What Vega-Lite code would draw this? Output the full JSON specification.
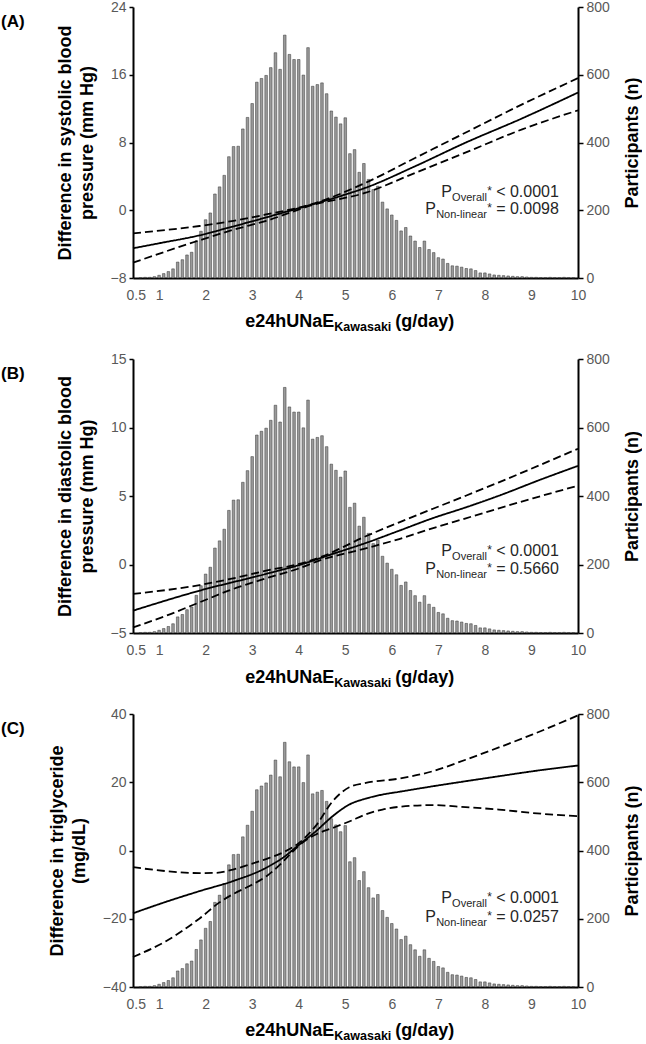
{
  "$schema": "https://vega.github.io/schema/vega-lite/v6.json",
  "autosize": {"type": "pad"},
  "padding": {"left": 1, "top": 0, "right": 0, "bottom": 0},
  "bounds": "flush",
  "spacing": 81,
  "config": {
    "view": {"stroke": null},
    "font": "Liberation Sans",
    "axis": {"grid": false, "domainColor": "black", "domainWidth": 2, "tickColor": "black", "tickWidth": 1.5, "labelColor": "#595959", "labelFontSize": 14, "labelFont": "Liberation Sans", "titleFont": "Liberation Sans", "titleFontSize": 18, "titleFontWeight": "bold", "titleColor": "black"},
    "title": {"font": "Liberation Sans", "fontSize": 17, "fontWeight": "bold", "color": "black", "anchor": "start", "frame": "group", "dx": -132, "offset": -31, "baseline": "top"}
  },
  "datasets": {
    "hist": [
      {"x":0.6,"n":1},{"x":0.7,"n":2},{"x":0.8,"n":2},{"x":0.9,"n":4},{"x":1.0,"n":8},{"x":1.1,"n":13},{"x":1.2,"n":19},{"x":1.3,"n":27},{"x":1.4,"n":47},{"x":1.5,"n":54},{"x":1.6,"n":68},{"x":1.7,"n":76},{"x":1.8,"n":110},{"x":1.9,"n":138},{"x":2.0,"n":172},{"x":2.1,"n":192},{"x":2.2,"n":248},{"x":2.3,"n":269},{"x":2.4,"n":303},{"x":2.5,"n":358},{"x":2.6,"n":388},{"x":2.7,"n":389},{"x":2.8,"n":440},{"x":2.9,"n":474},{"x":3.0,"n":515},{"x":3.1,"n":578},{"x":3.2,"n":589},{"x":3.3,"n":598},{"x":3.4,"n":621},{"x":3.5,"n":665},{"x":3.6,"n":616},{"x":3.7,"n":717},{"x":3.8,"n":660},{"x":3.9,"n":645},{"x":4.0,"n":645},{"x":4.1,"n":599},{"x":4.2,"n":680},{"x":4.3,"n":566},{"x":4.4,"n":571},{"x":4.5,"n":576},{"x":4.6,"n":544},{"x":4.7,"n":493},{"x":4.8,"n":475},{"x":4.9,"n":455},{"x":5.0,"n":473},{"x":5.1,"n":367},{"x":5.2,"n":379},{"x":5.3,"n":312},{"x":5.4,"n":338},{"x":5.5,"n":291},{"x":5.6,"n":261},{"x":5.7,"n":271},{"x":5.8,"n":224},{"x":5.9,"n":204},{"x":6.0,"n":186},{"x":6.1,"n":170},{"x":6.2,"n":139},{"x":6.3,"n":149},{"x":6.4,"n":124},{"x":6.5,"n":109},{"x":6.6,"n":90},{"x":6.7,"n":109},{"x":6.8,"n":84},{"x":6.9,"n":75},{"x":7.0,"n":60},{"x":7.1,"n":56},{"x":7.2,"n":43},{"x":7.3,"n":36},{"x":7.4,"n":35},{"x":7.5,"n":32},{"x":7.6,"n":28},{"x":7.7,"n":27},{"x":7.8,"n":22},{"x":7.9,"n":15},{"x":8.0,"n":15},{"x":8.1,"n":12},{"x":8.2,"n":9},{"x":8.3,"n":8},{"x":8.4,"n":7},{"x":8.5,"n":6},{"x":8.6,"n":5},{"x":8.7,"n":4},{"x":8.8,"n":4},{"x":8.9,"n":3},{"x":9.0,"n":2},{"x":9.1,"n":2},{"x":9.2,"n":1},{"x":9.3,"n":1},{"x":9.4,"n":2},{"x":9.5,"n":1},{"x":9.6,"n":1},{"x":9.7,"n":2},{"x":9.8,"n":1},{"x":9.9,"n":1}
    ],
    "lines": [
      {"panel":"A","type":"est","x":0.44,"v":-4.49},{"panel":"A","type":"est","x":1.0,"v":-3.9},{"panel":"A","type":"est","x":1.87,"v":-2.96},{"panel":"A","type":"est","x":2.5,"v":-2.05},{"panel":"A","type":"est","x":3.3,"v":-0.85},{"panel":"A","type":"est","x":3.66,"v":-0.29},{"panel":"A","type":"est","x":4.3,"v":0.7},{"panel":"A","type":"est","x":5.0,"v":1.85},{"panel":"A","type":"est","x":5.44,"v":2.66},{"panel":"A","type":"est","x":6.51,"v":5.22},{"panel":"A","type":"est","x":7.58,"v":7.97},{"panel":"A","type":"est","x":8.8,"v":10.85},{"panel":"A","type":"est","x":10,"v":13.9},
      {"panel":"A","type":"hi","x":0.44,"v":-2.72},{"panel":"A","type":"hi","x":1.87,"v":-1.86},{"panel":"A","type":"hi","x":2.6,"v":-1.25},{"panel":"A","type":"hi","x":3.3,"v":-0.5},{"panel":"A","type":"hi","x":4.3,"v":0.75},{"panel":"A","type":"hi","x":5.44,"v":3.25},{"panel":"A","type":"hi","x":6.51,"v":6.2},{"panel":"A","type":"hi","x":7.58,"v":9.15},{"panel":"A","type":"hi","x":8.8,"v":12.5},{"panel":"A","type":"hi","x":10,"v":15.6},
      {"panel":"A","type":"lo","x":0.44,"v":-6.19},{"panel":"A","type":"lo","x":1.87,"v":-3.55},{"panel":"A","type":"lo","x":2.6,"v":-2.3},{"panel":"A","type":"lo","x":3.3,"v":-1.25},{"panel":"A","type":"lo","x":4.3,"v":0.62},{"panel":"A","type":"lo","x":5.44,"v":2.07},{"panel":"A","type":"lo","x":6.51,"v":4.43},{"panel":"A","type":"lo","x":7.58,"v":6.8},{"panel":"A","type":"lo","x":8.8,"v":9.55},{"panel":"A","type":"lo","x":10,"v":11.8},
      {"panel":"B","type":"est","x":0.44,"v":-3.37},{"panel":"B","type":"est","x":1.87,"v":-1.91},{"panel":"B","type":"est","x":3.3,"v":-0.69},{"panel":"B","type":"est","x":4.01,"v":-0.04},{"panel":"B","type":"est","x":4.73,"v":0.77},{"panel":"B","type":"est","x":5.44,"v":1.57},{"panel":"B","type":"est","x":6.16,"v":2.47},{"panel":"B","type":"est","x":6.87,"v":3.37},{"panel":"B","type":"est","x":7.59,"v":4.17},{"panel":"B","type":"est","x":8.3,"v":5.02},{"panel":"B","type":"est","x":9.23,"v":6.24},{"panel":"B","type":"est","x":10,"v":7.2},
      {"panel":"B","type":"hi","x":0.44,"v":-2.15},{"panel":"B","type":"hi","x":1.87,"v":-1.5},{"panel":"B","type":"hi","x":2.59,"v":-1.01},{"panel":"B","type":"hi","x":3.3,"v":-0.45},{"panel":"B","type":"hi","x":4.01,"v":0.04},{"panel":"B","type":"hi","x":4.44,"v":0.5},{"panel":"B","type":"hi","x":5.44,"v":2.06},{"panel":"B","type":"hi","x":6.16,"v":3.08},{"panel":"B","type":"hi","x":6.87,"v":4.05},{"panel":"B","type":"hi","x":7.59,"v":5.02},{"panel":"B","type":"hi","x":8.3,"v":6.0},{"panel":"B","type":"hi","x":10,"v":8.45},
      {"panel":"B","type":"lo","x":0.44,"v":-4.59},{"panel":"B","type":"lo","x":1.16,"v":-3.73},{"panel":"B","type":"lo","x":1.87,"v":-2.76},{"panel":"B","type":"lo","x":2.59,"v":-1.79},{"panel":"B","type":"lo","x":3.3,"v":-1.01},{"panel":"B","type":"lo","x":4.01,"v":-0.28},{"panel":"B","type":"lo","x":4.44,"v":0.28},{"panel":"B","type":"lo","x":5.44,"v":1.18},{"panel":"B","type":"lo","x":6.16,"v":1.86},{"panel":"B","type":"lo","x":6.87,"v":2.64},{"panel":"B","type":"lo","x":7.59,"v":3.37},{"panel":"B","type":"lo","x":8.3,"v":4.1},{"panel":"B","type":"lo","x":9.03,"v":4.83},{"panel":"B","type":"lo","x":10,"v":5.75},
      {"panel":"C","type":"est","x":0.44,"v":-18.4},{"panel":"C","type":"est","x":1.157,"v":-15.0},{"panel":"C","type":"est","x":1.871,"v":-11.9},{"panel":"C","type":"est","x":2.586,"v":-8.98},{"panel":"C","type":"est","x":3.3,"v":-5.07},{"panel":"C","type":"est","x":3.657,"v":-2.15},{"panel":"C","type":"est","x":4.014,"v":1.76},{"panel":"C","type":"est","x":4.371,"v":5.66},{"panel":"C","type":"est","x":4.729,"v":10.05},{"panel":"C","type":"est","x":5.086,"v":13.46},{"panel":"C","type":"est","x":5.443,"v":15.22},{"panel":"C","type":"est","x":5.8,"v":16.4},{"panel":"C","type":"est","x":6.157,"v":17.2},{"panel":"C","type":"est","x":6.871,"v":18.8},{"panel":"C","type":"est","x":7.586,"v":20.3},{"panel":"C","type":"est","x":8.3,"v":21.76},{"panel":"C","type":"est","x":9.014,"v":23.2},{"panel":"C","type":"est","x":10,"v":24.9},
      {"panel":"C","type":"hi","x":0.44,"v":-4.88},{"panel":"C","type":"hi","x":1.157,"v":-6.05},{"panel":"C","type":"hi","x":1.871,"v":-6.63},{"panel":"C","type":"hi","x":2.229,"v":-6.54},{"panel":"C","type":"hi","x":2.586,"v":-5.6},{"panel":"C","type":"hi","x":2.943,"v":-4.1},{"panel":"C","type":"hi","x":3.3,"v":-2.5},{"panel":"C","type":"hi","x":3.657,"v":-0.6},{"panel":"C","type":"hi","x":4.014,"v":2.3},{"panel":"C","type":"hi","x":4.371,"v":7.3},{"panel":"C","type":"hi","x":4.729,"v":14.44},{"panel":"C","type":"hi","x":5.086,"v":18.54},{"panel":"C","type":"hi","x":5.443,"v":19.8},{"panel":"C","type":"hi","x":6.157,"v":21.07},{"panel":"C","type":"hi","x":6.871,"v":23.2},{"panel":"C","type":"hi","x":7.586,"v":26.6},{"panel":"C","type":"hi","x":8.3,"v":30.2},{"panel":"C","type":"hi","x":9.014,"v":33.95},{"panel":"C","type":"hi","x":10,"v":39.6},
      {"panel":"C","type":"lo","x":0.44,"v":-31.2},{"panel":"C","type":"lo","x":1.157,"v":-26.5},{"panel":"C","type":"lo","x":1.871,"v":-19.9},{"panel":"C","type":"lo","x":2.3,"v":-15.2},{"panel":"C","type":"lo","x":2.586,"v":-12.8},{"panel":"C","type":"lo","x":2.943,"v":-10.4},{"panel":"C","type":"lo","x":3.3,"v":-7.6},{"panel":"C","type":"lo","x":3.586,"v":-4.3},{"panel":"C","type":"lo","x":3.8,"v":-1.3},{"panel":"C","type":"lo","x":4.1,"v":2.5},{"panel":"C","type":"lo","x":4.4,"v":4.9},{"panel":"C","type":"lo","x":4.729,"v":6.6},{"panel":"C","type":"lo","x":5.086,"v":8.5},{"panel":"C","type":"lo","x":5.443,"v":10.6},{"panel":"C","type":"lo","x":5.8,"v":12.0},{"panel":"C","type":"lo","x":6.157,"v":12.8},{"panel":"C","type":"lo","x":6.871,"v":13.3},{"panel":"C","type":"lo","x":7.586,"v":12.7},{"panel":"C","type":"lo","x":8.3,"v":12.0},{"panel":"C","type":"lo","x":9.014,"v":11.0},{"panel":"C","type":"lo","x":10,"v":10.05}
    ],
    "pt": [
      {"panel":"A","row":1,"x":9.59,"n":240,"sub":"Overall","val":"< 0.0001"},
      {"panel":"A","row":2,"x":9.59,"n":188,"sub":"Non-linear","val":"= 0.0098"},
      {"panel":"B","row":1,"x":9.59,"n":224,"sub":"Overall","val":"< 0.0001"},
      {"panel":"B","row":2,"x":9.59,"n":171,"sub":"Non-linear","val":"= 0.5660"},
      {"panel":"C","row":1,"x":9.59,"n":247,"sub":"Overall","val":"< 0.0001"},
      {"panel":"C","row":2,"x":9.59,"n":191,"sub":"Non-linear","val":"= 0.0257"}
    ]
  },
  "vconcat": [
    {
      "width": 445, "height": 271,
      "title": {"text": "(A)"},
      "layer": [
        {
          "layer": [
            {"data": {"name": "hist"}, "mark": {"type": "bar", "size": 2.6, "fill": "#9a9a9a", "stroke": "#333333", "strokeWidth": 0.5},
             "encoding": {
               "x": {"field": "x", "type": "quantitative", "scale": {"domain": [0.44, 10], "nice": false, "zero": false, "padding": 0}, "axis": {"values": [0.5,1,2,3,4,5,6,7,8,9,10], "labelExpr": "datum.value + ''", "ticks": false, "labelPadding": 10, "title": null, "labelFlush": false}},
               "y": {"field": "n", "type": "quantitative", "scale": {"domain": [0, 800], "nice": false}, "axis": {"orient": "right", "values": [0,200,400,600,800], "tickSize": 5, "labelPadding": 3, "title": "Participants (n)", "titleAngle": -90, "titleBaseline": "top", "titlePadding": 14}}
             }},
            {"data": {"name": "pt"}, "transform": [{"filter": "datum.panel === 'A'"}], "mark": {"type": "text", "align": "right", "baseline": "alphabetic", "fontSize": 16, "color": "#262626"},
             "encoding": {"x": {"field": "x", "type": "quantitative"}, "y": {"field": "n", "type": "quantitative"}, "text": {"field": "val"}}},
            {"data": {"name": "pt"}, "transform": [{"filter": "datum.panel === 'A'"}], "mark": {"type": "text", "align": "right", "baseline": "alphabetic", "fontSize": 12, "dx": -67, "dy": -2, "color": "#262626"},
             "encoding": {"x": {"field": "x", "type": "quantitative"}, "y": {"field": "n", "type": "quantitative"}, "text": {"value": "*"}}},
            {"data": {"name": "pt"}, "transform": [{"filter": "datum.panel === 'A'"}], "mark": {"type": "text", "align": "right", "baseline": "alphabetic", "fontSize": 11, "dx": -72, "dy": 4, "color": "#262626"},
             "encoding": {"x": {"field": "x", "type": "quantitative"}, "y": {"field": "n", "type": "quantitative"}, "text": {"field": "sub"}}},
            {"data": {"name": "pt"}, "transform": [{"filter": "datum.panel === 'A' && datum.row === 1"}], "mark": {"type": "text", "align": "right", "baseline": "alphabetic", "fontSize": 16, "dx": -107, "color": "#262626"},
             "encoding": {"x": {"field": "x", "type": "quantitative"}, "y": {"field": "n", "type": "quantitative"}, "text": {"value": "P"}}},
            {"data": {"name": "pt"}, "transform": [{"filter": "datum.panel === 'A' && datum.row === 2"}], "mark": {"type": "text", "align": "right", "baseline": "alphabetic", "fontSize": 16, "dx": -123, "color": "#262626"},
             "encoding": {"x": {"field": "x", "type": "quantitative"}, "y": {"field": "n", "type": "quantitative"}, "text": {"value": "P"}}},
            {"data": {"values": [{}]}, "mark": {"type": "text", "align": "right", "baseline": "alphabetic", "fontSize": 18, "fontWeight": "bold", "color": "black"},
             "encoding": {"x": {"datum": 4.765, "type": "quantitative"}, "y": {"datum": -145, "type": "quantitative"}, "text": {"value": "e24hUNaE"}}},
            {"data": {"values": [{}]}, "mark": {"type": "text", "align": "left", "baseline": "alphabetic", "fontSize": 12.5, "fontWeight": "bold", "dy": 4, "color": "black"},
             "encoding": {"x": {"datum": 4.765, "type": "quantitative"}, "y": {"datum": -145, "type": "quantitative"}, "text": {"value": "Kawasaki"}}},
            {"data": {"values": [{}]}, "mark": {"type": "text", "align": "left", "baseline": "alphabetic", "fontSize": 18, "fontWeight": "bold", "dx": 61, "color": "black"},
             "encoding": {"x": {"datum": 4.765, "type": "quantitative"}, "y": {"datum": -145, "type": "quantitative"}, "text": {"value": "(g/day)"}}}
          ]
        },
        {"data": {"name": "lines"}, "transform": [{"filter": "datum.panel === 'A'"}], "mark": {"type": "line", "color": "black", "strokeWidth": 1.8, "interpolate": "monotone"},
         "encoding": {
           "x": {"field": "x", "type": "quantitative"},
           "y": {"field": "v", "type": "quantitative", "scale": {"domain": [-8, 24], "nice": false, "zero": false}, "axis": {"orient": "left", "values": [-8,0,8,16,24], "tickSize": 4, "labelPadding": 3, "title": ["Difference in systolic blood", "pressure (mm Hg)"], "titleLineHeight": 22, "titlePadding": 14}},
           "strokeDash": {"field": "type", "type": "nominal", "scale": {"domain": ["est","hi","lo"], "range": [[1,0],[8,4],[8,4]]}, "legend": null},
           "detail": {"field": "type"}
         }}
      ],
      "resolve": {"scale": {"y": "independent"}, "axis": {"y": "independent"}}
    },
    {
      "width": 445, "height": 274,
      "title": {"text": "(B)"},
      "layer": [
        {
          "layer": [
            {"data": {"name": "hist"}, "mark": {"type": "bar", "size": 2.6, "fill": "#9a9a9a", "stroke": "#333333", "strokeWidth": 0.5},
             "encoding": {
               "x": {"field": "x", "type": "quantitative", "scale": {"domain": [0.44, 10], "nice": false, "zero": false, "padding": 0}, "axis": {"values": [0.5,1,2,3,4,5,6,7,8,9,10], "labelExpr": "datum.value + ''", "ticks": false, "labelPadding": 10, "title": null, "labelFlush": false}},
               "y": {"field": "n", "type": "quantitative", "scale": {"domain": [0, 800], "nice": false}, "axis": {"orient": "right", "values": [0,200,400,600,800], "tickSize": 5, "labelPadding": 3, "title": "Participants (n)", "titleAngle": -90, "titleBaseline": "top", "titlePadding": 14}}
             }},
            {"data": {"name": "pt"}, "transform": [{"filter": "datum.panel === 'B'"}], "mark": {"type": "text", "align": "right", "baseline": "alphabetic", "fontSize": 16, "color": "#262626"},
             "encoding": {"x": {"field": "x", "type": "quantitative"}, "y": {"field": "n", "type": "quantitative"}, "text": {"field": "val"}}},
            {"data": {"name": "pt"}, "transform": [{"filter": "datum.panel === 'B'"}], "mark": {"type": "text", "align": "right", "baseline": "alphabetic", "fontSize": 12, "dx": -67, "dy": -2, "color": "#262626"},
             "encoding": {"x": {"field": "x", "type": "quantitative"}, "y": {"field": "n", "type": "quantitative"}, "text": {"value": "*"}}},
            {"data": {"name": "pt"}, "transform": [{"filter": "datum.panel === 'B'"}], "mark": {"type": "text", "align": "right", "baseline": "alphabetic", "fontSize": 11, "dx": -72, "dy": 4, "color": "#262626"},
             "encoding": {"x": {"field": "x", "type": "quantitative"}, "y": {"field": "n", "type": "quantitative"}, "text": {"field": "sub"}}},
            {"data": {"name": "pt"}, "transform": [{"filter": "datum.panel === 'B' && datum.row === 1"}], "mark": {"type": "text", "align": "right", "baseline": "alphabetic", "fontSize": 16, "dx": -107, "color": "#262626"},
             "encoding": {"x": {"field": "x", "type": "quantitative"}, "y": {"field": "n", "type": "quantitative"}, "text": {"value": "P"}}},
            {"data": {"name": "pt"}, "transform": [{"filter": "datum.panel === 'B' && datum.row === 2"}], "mark": {"type": "text", "align": "right", "baseline": "alphabetic", "fontSize": 16, "dx": -123, "color": "#262626"},
             "encoding": {"x": {"field": "x", "type": "quantitative"}, "y": {"field": "n", "type": "quantitative"}, "text": {"value": "P"}}},
            {"data": {"values": [{}]}, "mark": {"type": "text", "align": "right", "baseline": "alphabetic", "fontSize": 18, "fontWeight": "bold", "color": "black"},
             "encoding": {"x": {"datum": 4.765, "type": "quantitative"}, "y": {"datum": -145, "type": "quantitative"}, "text": {"value": "e24hUNaE"}}},
            {"data": {"values": [{}]}, "mark": {"type": "text", "align": "left", "baseline": "alphabetic", "fontSize": 12.5, "fontWeight": "bold", "dy": 4, "color": "black"},
             "encoding": {"x": {"datum": 4.765, "type": "quantitative"}, "y": {"datum": -145, "type": "quantitative"}, "text": {"value": "Kawasaki"}}},
            {"data": {"values": [{}]}, "mark": {"type": "text", "align": "left", "baseline": "alphabetic", "fontSize": 18, "fontWeight": "bold", "dx": 61, "color": "black"},
             "encoding": {"x": {"datum": 4.765, "type": "quantitative"}, "y": {"datum": -145, "type": "quantitative"}, "text": {"value": "(g/day)"}}}
          ]
        },
        {"data": {"name": "lines"}, "transform": [{"filter": "datum.panel === 'B'"}], "mark": {"type": "line", "color": "black", "strokeWidth": 1.8, "interpolate": "monotone"},
         "encoding": {
           "x": {"field": "x", "type": "quantitative"},
           "y": {"field": "v", "type": "quantitative", "scale": {"domain": [-5, 15], "nice": false, "zero": false}, "axis": {"orient": "left", "values": [-5,0,5,10,15], "tickSize": 4, "labelPadding": 3, "title": ["Difference in diastolic blood", "pressure (mm Hg)"], "titleLineHeight": 22, "titlePadding": 14}},
           "strokeDash": {"field": "type", "type": "nominal", "scale": {"domain": ["est","hi","lo"], "range": [[1,0],[8,4],[8,4]]}, "legend": null},
           "detail": {"field": "type"}
         }}
      ],
      "resolve": {"scale": {"y": "independent"}, "axis": {"y": "independent"}}
    },
    {
      "width": 445, "height": 273,
      "title": {"text": "(C)"},
      "layer": [
        {
          "layer": [
            {"data": {"name": "hist"}, "mark": {"type": "bar", "size": 2.6, "fill": "#9a9a9a", "stroke": "#333333", "strokeWidth": 0.5},
             "encoding": {
               "x": {"field": "x", "type": "quantitative", "scale": {"domain": [0.44, 10], "nice": false, "zero": false, "padding": 0}, "axis": {"values": [0.5,1,2,3,4,5,6,7,8,9,10], "labelExpr": "datum.value + ''", "ticks": false, "labelPadding": 10, "title": null, "labelFlush": false}},
               "y": {"field": "n", "type": "quantitative", "scale": {"domain": [0, 800], "nice": false}, "axis": {"orient": "right", "values": [0,200,400,600,800], "tickSize": 5, "labelPadding": 3, "title": "Participants (n)", "titleAngle": -90, "titleBaseline": "top", "titlePadding": 14}}
             }},
            {"data": {"name": "pt"}, "transform": [{"filter": "datum.panel === 'C'"}], "mark": {"type": "text", "align": "right", "baseline": "alphabetic", "fontSize": 16, "color": "#262626"},
             "encoding": {"x": {"field": "x", "type": "quantitative"}, "y": {"field": "n", "type": "quantitative"}, "text": {"field": "val"}}},
            {"data": {"name": "pt"}, "transform": [{"filter": "datum.panel === 'C'"}], "mark": {"type": "text", "align": "right", "baseline": "alphabetic", "fontSize": 12, "dx": -67, "dy": -2, "color": "#262626"},
             "encoding": {"x": {"field": "x", "type": "quantitative"}, "y": {"field": "n", "type": "quantitative"}, "text": {"value": "*"}}},
            {"data": {"name": "pt"}, "transform": [{"filter": "datum.panel === 'C'"}], "mark": {"type": "text", "align": "right", "baseline": "alphabetic", "fontSize": 11, "dx": -72, "dy": 4, "color": "#262626"},
             "encoding": {"x": {"field": "x", "type": "quantitative"}, "y": {"field": "n", "type": "quantitative"}, "text": {"field": "sub"}}},
            {"data": {"name": "pt"}, "transform": [{"filter": "datum.panel === 'C' && datum.row === 1"}], "mark": {"type": "text", "align": "right", "baseline": "alphabetic", "fontSize": 16, "dx": -107, "color": "#262626"},
             "encoding": {"x": {"field": "x", "type": "quantitative"}, "y": {"field": "n", "type": "quantitative"}, "text": {"value": "P"}}},
            {"data": {"name": "pt"}, "transform": [{"filter": "datum.panel === 'C' && datum.row === 2"}], "mark": {"type": "text", "align": "right", "baseline": "alphabetic", "fontSize": 16, "dx": -123, "color": "#262626"},
             "encoding": {"x": {"field": "x", "type": "quantitative"}, "y": {"field": "n", "type": "quantitative"}, "text": {"value": "P"}}},
            {"data": {"values": [{}]}, "mark": {"type": "text", "align": "right", "baseline": "alphabetic", "fontSize": 18, "fontWeight": "bold", "color": "black"},
             "encoding": {"x": {"datum": 4.765, "type": "quantitative"}, "y": {"datum": -145, "type": "quantitative"}, "text": {"value": "e24hUNaE"}}},
            {"data": {"values": [{}]}, "mark": {"type": "text", "align": "left", "baseline": "alphabetic", "fontSize": 12.5, "fontWeight": "bold", "dy": 4, "color": "black"},
             "encoding": {"x": {"datum": 4.765, "type": "quantitative"}, "y": {"datum": -145, "type": "quantitative"}, "text": {"value": "Kawasaki"}}},
            {"data": {"values": [{}]}, "mark": {"type": "text", "align": "left", "baseline": "alphabetic", "fontSize": 18, "fontWeight": "bold", "dx": 61, "color": "black"},
             "encoding": {"x": {"datum": 4.765, "type": "quantitative"}, "y": {"datum": -145, "type": "quantitative"}, "text": {"value": "(g/day)"}}}
          ]
        },
        {"data": {"name": "lines"}, "transform": [{"filter": "datum.panel === 'C'"}], "mark": {"type": "line", "color": "black", "strokeWidth": 1.8, "interpolate": "monotone"},
         "encoding": {
           "x": {"field": "x", "type": "quantitative"},
           "y": {"field": "v", "type": "quantitative", "scale": {"domain": [-40, 40], "nice": false, "zero": false}, "axis": {"orient": "left", "values": [-40,-20,0,20,40], "tickSize": 4, "labelPadding": 3, "title": ["Difference in triglyceride", "(mg/dL)"], "titleLineHeight": 22, "titlePadding": 14}},
           "strokeDash": {"field": "type", "type": "nominal", "scale": {"domain": ["est","hi","lo"], "range": [[1,0],[8,4],[8,4]]}, "legend": null},
           "detail": {"field": "type"}
         }}
      ],
      "resolve": {"scale": {"y": "independent"}, "axis": {"y": "independent"}}
    }
  ]
}
